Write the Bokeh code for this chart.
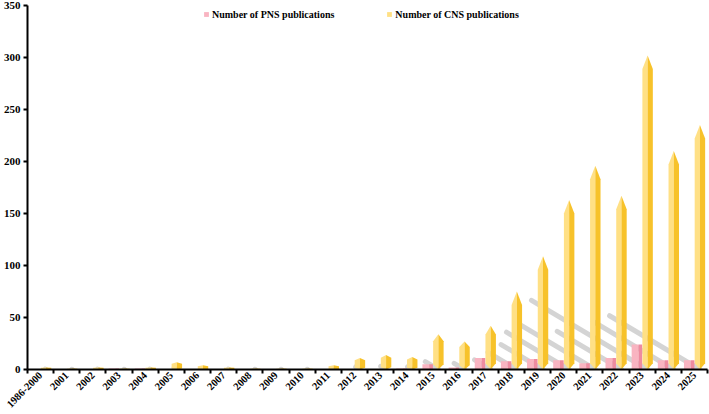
import math
from bokeh.plotting import figure
from bokeh.models import FixedTicker, Range1d, Legend, LegendItem
from bokeh.embed import file_html
from bokeh.resources import INLINE

categories = ["1986-2000", "2001", "2002", "2003", "2004", "2005", "2006", "2007",
              "2008", "2009", "2010", "2011", "2012", "2013", "2014", "2015", "2016",
              "2017", "2018", "2019", "2020", "2021", "2022", "2023", "2024", "2025"]
cns_values = [2, 1, 2, 1, 2, 7, 4, 2, 1, 1, 1, 4, 11, 14, 12, 34, 27, 42, 75, 109,
              163, 196, 167, 302, 210, 235]
pns_values = [0, 0, 0, 1, 1, 0, 0, 0, 0, 0, 0, 0, 0, 0, 1, 5, 2, 11, 8, 10, 9, 6,
              11, 24, 9, 9]
y_ticks = [0, 50, 100, 150, 200, 250, 300, 350]

FONT = "Liberation Serif"
Y_LIGHT, Y_DARK = "#FFE085", "#F7C22A"
P_LIGHT, P_DARK = "#F9B4C1", "#EE8BA0"

p = figure(width=709, height=414, output_backend="svg", toolbar_location=None,
           x_range=Range1d(-0.5, 25.5), y_range=Range1d(0, 350),
           min_border_left=25, min_border_right=2, min_border_top=5,
           min_border_bottom=45)
p.outline_line_color = None
p.grid.visible = False

# shadows of the yellow columns
sx0, sy0, sx1, sy1 = [], [], [], []
for i, h in enumerate(cns_values):
    xc = i + 0.21
    sx0.append(xc)
    sy0.append(0)
    sx1.append(xc - 0.0147 * h)
    sy1.append(0.22 * h)
p.segment(x0=sx0, y0=sy0, x1=sx1, y1=sy1, line_color="#cccccc", line_width=5,
          line_alpha=0.85, line_cap="round")

# yellow pointed columns
yl_xs, yl_ys, yd_xs, yd_ys = [], [], [], []
hw = 0.2
for i, h in enumerate(cns_values):
    xc = i + 0.21
    pt = min(13, 0.2 * h)
    bp = min(6, 0.15 * h)
    s = h - pt
    yl_xs.append([xc, xc - hw, xc - hw, xc])
    yl_ys.append([0, bp, s, h])
    yd_xs.append([xc, xc + hw, xc + hw, xc])
    yd_ys.append([0, bp, s, h])
r_cns = p.patches(xs=yl_xs, ys=yl_ys, fill_color=Y_LIGHT, line_color=None)
p.patches(xs=yd_xs, ys=yd_ys, fill_color=Y_DARK, line_color=None)

# pink columns
pl_l, pl_r, pd_l, pd_r, ph = [], [], [], [], []
for i, h in enumerate(pns_values):
    xc = i - 0.2
    x0 = xc - hw
    xm = x0 + 2 * hw * 0.65
    x1 = xc + hw
    pl_l.append(x0)
    pl_r.append(xm)
    pd_l.append(xm)
    pd_r.append(x1)
    ph.append(h)
r_pns = p.quad(left=pl_l, right=pl_r, bottom=0, top=ph, fill_color=P_LIGHT, line_color=None)
p.quad(left=pd_l, right=pd_r, bottom=0, top=ph, fill_color=P_DARK, line_color=None)

# axes
for ax in (p.xaxis[0], p.yaxis[0]):
    ax.axis_line_width = 2
    ax.axis_line_color = "black"
    ax.major_label_text_font = FONT
    ax.major_label_text_font_style = "bold"
    ax.major_label_text_font_size = "11px"
    ax.major_label_text_color = "black"

p.xaxis.ticker = FixedTicker(ticks=list(range(len(categories))),
                             minor_ticks=[i - 0.5 for i in range(len(categories) + 1)])
p.xaxis.major_label_overrides = {i: c for i, c in enumerate(categories)}
p.xaxis.major_label_orientation = math.pi / 4
p.xaxis.major_tick_line_color = None
p.xaxis.major_tick_out = 0
p.xaxis.major_tick_in = 0
p.xaxis.minor_tick_line_color = "black"
p.xaxis.minor_tick_line_width = 2
p.xaxis.minor_tick_out = 4
p.xaxis.minor_tick_in = 0
p.xaxis.major_label_standoff = 0
p.xaxis.major_label_text_font_size = "10.5px"

p.yaxis.ticker = FixedTicker(ticks=y_ticks, minor_ticks=[])
p.yaxis.major_tick_line_width = 2
p.yaxis.major_tick_out = 4
p.yaxis.major_tick_in = 0
p.yaxis.major_label_standoff = 3

legend = Legend(items=[LegendItem(label="Number of PNS publications", renderers=[r_pns]),
                       LegendItem(label="Number of CNS publications", renderers=[r_cns])],
                orientation="horizontal", location=(176, 349), padding=0, margin=0,
                spacing=52, glyph_width=6, glyph_height=6, label_height=12,
                label_standoff=3, background_fill_alpha=0, border_line_color=None,
                label_text_font=FONT, label_text_font_style="bold",
                label_text_font_size="10px", label_text_color="black")
p.add_layout(legend)

open("out.html", "w").write(file_html(p, INLINE))
